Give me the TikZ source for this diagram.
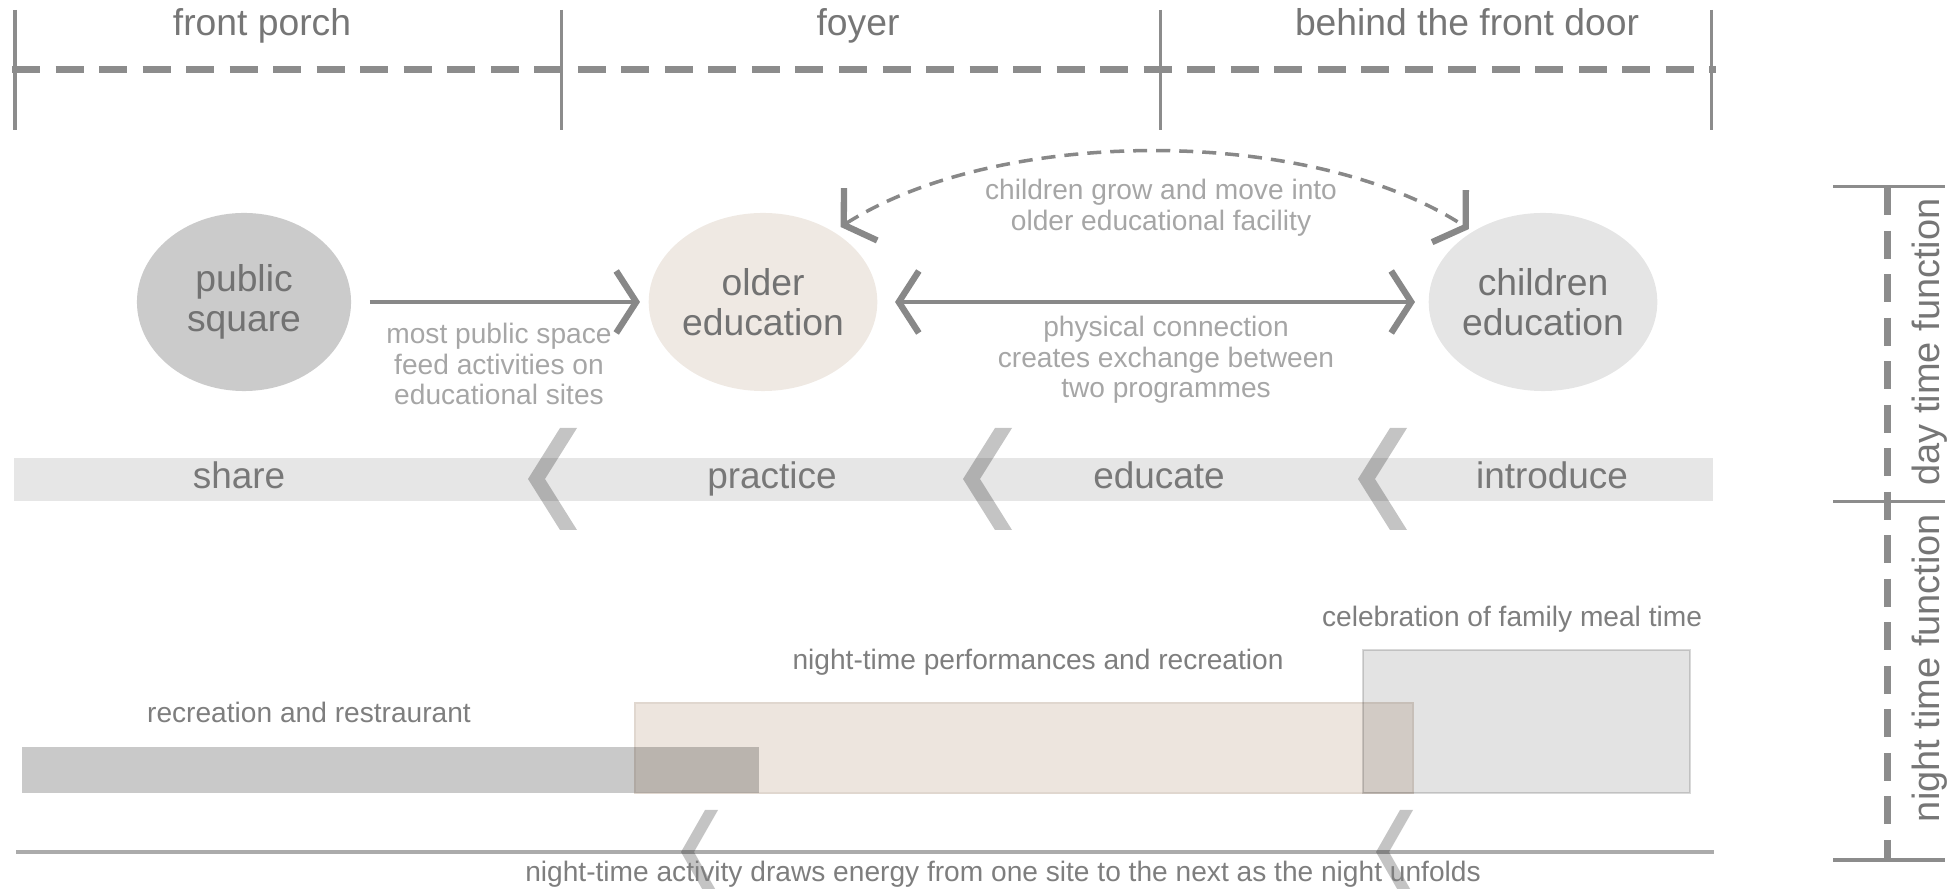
\documentclass[tikz,border=0pt]{standalone}
\usepackage{fontspec}
\setmainfont{Liberation Sans}
\usetikzlibrary{positioning,arrows.meta,shapes.geometric}
\definecolor{rule}{HTML}{8C8C8C}
\definecolor{headtext}{HTML}{767676}
\definecolor{nodetext}{HTML}{727272}
\definecolor{notetext}{HTML}{A6A6A6}
\definecolor{bandtext}{HTML}{787878}
\definecolor{nighttext}{HTML}{7E7E7E}
\definecolor{pubfill}{HTML}{CBCBCB}
\definecolor{oldfill}{HTML}{EFE9E3}
\definecolor{kidfill}{HTML}{E5E5E5}
\definecolor{bandfill}{HTML}{E6E6E6}
\definecolor{beige}{HTML}{EDE5DE}
\definecolor{beigeline}{HTML}{E0D7CF}
\definecolor{arrowgray}{HTML}{888888}

\begin{document}
\begin{tikzpicture}[x=0.01cm, y=-0.01cm,
    >={Straight Barb[length=2mm,width=6.2mm,line width=1.8pt]},
    zone/.style={rule, line width=0.07cm, dash pattern=on 0.28cm off 0.155cm},
    tick/.style={rule, line width=0.03cm},
    head/.style={headtext, anchor=base, font=\fontsize{10.6}{12}\selectfont},
    site/.style={ellipse, minimum width=2.14cm, minimum height=1.78cm, inner sep=0pt,
      text=nodetext, align=center, font=\fontsize{10.6}{11.4}\selectfont},
    note/.style={notetext, align=center, font=\fontsize{8}{8.7}\selectfont},
    flow/.style={arrowgray, line width=1.1pt},
    drift/.style={arrowgray, line width=1pt, dash pattern=on 0.14cm off 0.09cm},
    chev/.style={fill=black, fill opacity=0.23},
    band/.style={bandtext, anchor=base, font=\fontsize{10.5}{12}\selectfont},
    night/.style={nighttext, anchor=base, font=\fontsize{8}{9.6}\selectfont},
    side/.style={headtext, rotate=90, font=\fontsize{10.8}{12}\selectfont}]
  \useasboundingbox (0,0) rectangle (1955,889);

  \node[head] (porch) at (262,36) {front porch};
  \node[head] (foyer) at (858,36) {foyer};
  \node[head] (door) at (1467,36) {behind the front door};
  \draw[zone] (12,70) -- (1716,70);
  \foreach \x in {15,561,1160,1711}
    \draw[tick] (\x,10) -- (\x,130);

  \node[site, fill=pubfill] (pub) at (244,302) {public\\square};
  \node[site, fill=oldfill] (older) at (763,302) {older\\education};
  \node[site, fill=kidfill] (kids) at (1543,302) {children\\education};

  \draw[flow, ->, shorten <=0.18cm, shorten >=0.08cm] (pub) -- (older);
  \draw[flow, <->, shorten <=0.17cm, shorten >=0.13cm] (older) -- (kids);
  \draw[drift, <->, shorten <=0.08cm, shorten >=0.04cm] (older.45) .. controls (1000,126) and (1310,126) .. (kids.135);

  \node[note] (feed) at (499,364) {most public space\\feed activities on\\educational sites};
  \node[note] (link) at (1166,360) {physical connection\\creates exchange between\\two programmes};
  \node[note] (grow) at (1161,208) {children grow and move into\\older educational facility};

  \fill[bandfill] (14,458) rectangle (1713,501);
  \foreach \x in {528,963,1358}
    \fill[chev] (\x+32,428) -- (\x,479) -- (\x+32,530) -- (\x+49,530) -- (\x+17,479) -- (\x+49,428) -- cycle;
  \node[band] (share) at (239,489) {share};
  \node[band] (practice) at (772,489) {practice};
  \node[band] (educate) at (1159,489) {educate};
  \node[band] (introduce) at (1552,489) {introduce};

  \filldraw[fill=beige, draw=beigeline, line width=0.015cm] (635,703) rectangle (1413,793);
  \fill[black, fill opacity=0.21] (22,747) rectangle (759,793);
  \filldraw[fill=black, fill opacity=0.11, draw=black, draw opacity=0.15, line width=0.015cm] (1363,650) rectangle (1690,793);
  \node[night] (rest) at (309,723) {recreation and restraurant};
  \node[night] (perf) at (1038,670) {night-time performances and recreation};
  \node[night] (meal) at (1512,627) {celebration of family meal time};

  \draw[black!33, line width=0.04cm] (16,852) -- (1714,852);
  \foreach \x in {681,1376}
    \fill[chev] (\x+24,810) -- (\x,852) -- (\x+24,894) -- (\x+37,894) -- (\x+13,852) -- (\x+37,810) -- cycle;
  \node[night] (unfold) at (1003,881) {night-time activity draws energy from one site to the next as the night unfolds};

  \draw[zone] (1887,187) -- (1887,860);
  \foreach \y in {187,502,860}
    \draw[tick] (1833,\y) -- (1945,\y);
  \node[side] (day) at (1930,342) {day time function};
  \node[side] (dusk) at (1930,668) {night time function};
\end{tikzpicture}
\end{document}
